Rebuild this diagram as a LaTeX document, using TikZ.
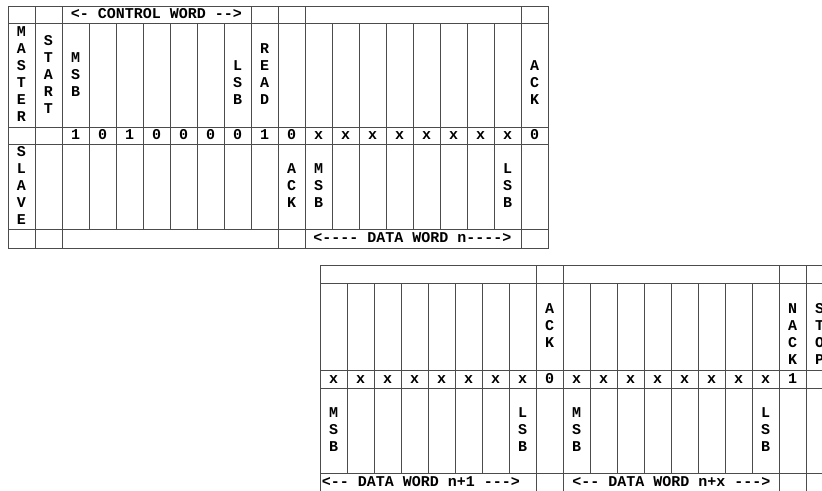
\documentclass[tikz,border=0pt]{standalone}
\usepackage{fontspec}
\setmonofont{Liberation Mono}
\newcommand\vstack[4]{\foreach \l [count=\k] in {#4} \node[lbl] (#1\k) at (#2, {#3+17*(\k-1)+4.3}) {\l};}
\begin{document}
\begin{tikzpicture}[x=1pt,y=-1pt,
  grid/.style={draw=black!70,line width=1pt},
  lbl/.style={font=\ttfamily\bfseries\fontsize{15}{17}\selectfont, inner sep=0pt, anchor=base, text=black}]
\useasboundingbox (0,0) rectangle (822,490);
\clip (0,0) rectangle (822,490);
% ---------- first table ----------
\draw[grid] (8,6) rectangle (548,248);
\foreach \y in {23,127,144,229} \draw[grid] (8,\y) -- (548,\y);
\foreach \i in {1,...,19} \draw[grid] ({8+27*\i},23) -- ({8+27*\i},229);
\foreach \i in {1,2,9,10,11,19} \draw[grid] ({8+27*\i},6) -- ({8+27*\i},23);
\foreach \i in {1,2,10,11,19} \draw[grid] ({8+27*\i},229) -- ({8+27*\i},248);
\node[lbl] (cw) at (156.5,18.8) {<-{} CONTROL WORD -{}->};
\vstack{mas}{21.5}{32.5}{M,A,S,T,E,R}
\vstack{sta}{48.5}{41}{S,T,A,R,T}
\vstack{cmsb}{75.5}{58}{M,S,B}
\vstack{clsb}{237.5}{66.5}{L,S,B}
\vstack{rd}{264.5}{49.5}{R,E,A,D}
\vstack{mack}{534.5}{66.5}{A,C,K}
\foreach \b [count=\k] in {1,0,1,0,0,0,0,1,0,x,x,x,x,x,x,x,x,0}
  \node[lbl] (tb\k) at ({8+27*(\k+1)+13.5},139.8) {\b};
\vstack{sla}{21.5}{152.5}{S,L,A,V,E}
\vstack{sack}{291.5}{169.5}{A,C,K}
\vstack{dmsb}{318.5}{169.5}{M,S,B}
\vstack{dlsb}{507.5}{169.5}{L,S,B}
\node[lbl] (dw) at (412.5,242.8) {<-{}-{}-{}- DATA WORD n-{}-{}-{}->};
% ---------- second table ----------
\draw[grid] (833,265) -- (320,265) -- (320,491) -- (833,491);
\foreach \y in {283,370,388,473} \draw[grid] (320,\y) -- (833,\y);
\foreach \j in {1,...,19} \draw[grid] ({320+27*\j},283) -- ({320+27*\j},473);
\foreach \j in {8,9,17,18,19} {
  \draw[grid] ({320+27*\j},265) -- ({320+27*\j},283);
  \draw[grid] ({320+27*\j},473) -- ({320+27*\j},491);
}
\vstack{back}{549.5}{309.5}{A,C,K}
\vstack{nack}{792.5}{309.5}{N,A,C,K}
\vstack{stop}{819.5}{309.5}{S,T,O,P}
\foreach \b [count=\k] in {x,x,x,x,x,x,x,x,0,x,x,x,x,x,x,x,x,1}
  \node[lbl] (bb\k) at ({320+27*(\k-1)+13.5},383.3) {\b};
\vstack{ma}{333.5}{413.5}{M,S,B}
\vstack{la}{522.5}{413.5}{L,S,B}
\vstack{mb}{576.5}{413.5}{M,S,B}
\vstack{lb}{765.5}{413.5}{L,S,B}
\node[lbl] (dw1) at (421,486.3) {<-{}- DATA WORD n+1 -{}-{}->};
\node[lbl] (dwx) at (671.5,486.3) {<-{}- DATA WORD n+x -{}-{}->};
\end{tikzpicture}
\end{document}
